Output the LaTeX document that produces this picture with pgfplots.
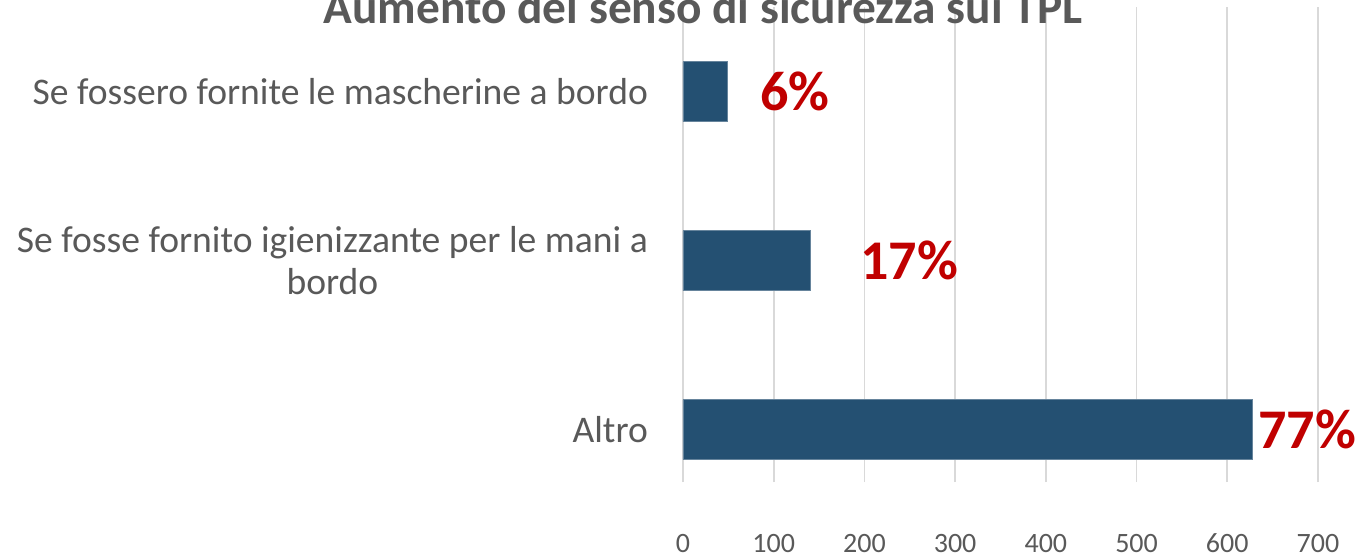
\documentclass[border=0pt]{standalone}
\usepackage{pgfplots}
\pgfplotsset{compat=1.18}
\usepackage{fontspec}
\setmainfont{Carlito}

\definecolor{barblue}{HTML}{245072}
\definecolor{txtgray}{HTML}{595959}
\definecolor{pctred}{HTML}{C00000}
\definecolor{gridgray}{HTML}{D9D9D9}

\begin{document}
\begin{tikzpicture}
\begin{axis}[
    name=ax,
    scale only axis,
    width=317.5pt, height=237.5pt,
    xbar,
    bar width=30pt,
    xmin=0, xmax=700,
    ymin=-0.31, ymax=2.5,
    xtick={0,100,...,700},
    ytick={0,1,2},
    yticklabels={Altro,
      {Se fosse fornito igienizzante per le mani a\\bordo},
      Se fossero fornite le mascherine a bordo},
    yticklabel style={align=center, font=\fontsize{18.8}{21}\selectfont,
      text=txtgray, xshift=-14pt},
    xticklabel style={font=\fontsize{14}{16}\selectfont, text=txtgray,
      yshift=-22.5pt},
    /pgf/number format/assume math mode=true,
    axis line style={draw=none},
    major tick length=0pt,
    xmajorgrids,
    grid style={gridgray, line width=0.8pt},
    clip=false,
]
\addplot[fill=barblue, draw=barblue!70!white, line width=0.4pt]
coordinates {(628,0) (140,1) (49,2)};

% percentages
\node[anchor=west, inner sep=0pt, text=pctred, font=\bfseries\fontsize{28}{32}\selectfont]
  at (axis cs:85,2) {6\%};
\node[anchor=west, inner sep=0pt, text=pctred, font=\bfseries\fontsize{28}{32}\selectfont]
  at (axis cs:195,1) {17\%};
\node[anchor=west, inner sep=0pt, text=pctred, font=\bfseries\fontsize{28}{32}\selectfont]
  at (axis cs:634,0) {77\%};
\end{axis}

% title, partly cut by the page edge
\node[anchor=base, text=txtgray, font=\bfseries\fontsize{23.7}{28}\selectfont]
  at ([xshift=10pt,yshift=229pt]ax.south west)
  {Aumento del senso di sicurezza sui TPL};

\pgfresetboundingbox
\path ([xshift=-341.5pt,yshift=-37.5pt]ax.south west)
  rectangle ([xshift=340pt,yshift=241pt]ax.south west);
\end{tikzpicture}
\end{document}
